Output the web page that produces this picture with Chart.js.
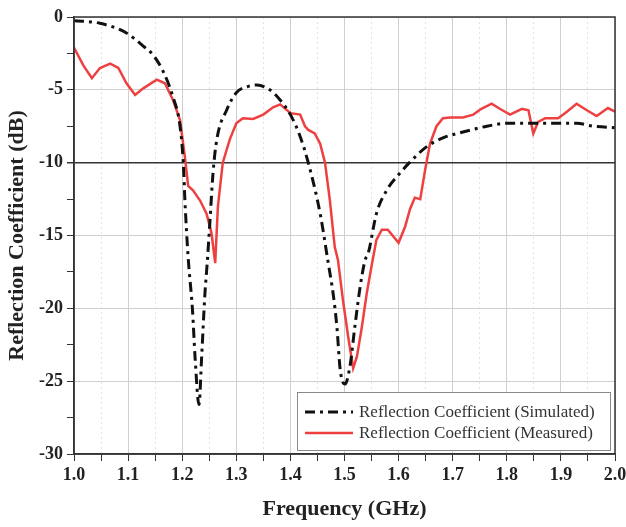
<!DOCTYPE html>
<html>
<head>
<meta charset="utf-8">
<script src="https://cdn.jsdelivr.net/npm/chart.js@4/dist/chart.umd.min.js"></script>
<style>
  html, body { margin: 0; padding: 0; background: #fff; }
  #wrap { width: 626px; height: 527px; }
</style>
</head>
<body>
<div id="wrap"><canvas id="grafico" width="626" height="527"></canvas></div>
<script>
// valores
var freqSim = [1.0, 1.048, 1.097, 1.128, 1.146, 1.165, 1.183, 1.196, 1.202, 1.205, 1.211, 1.219, 1.224, 1.231,
    1.236, 1.242, 1.246, 1.251, 1.257, 1.264, 1.282, 1.3, 1.319, 1.338, 1.362, 1.381, 1.4, 1.418, 1.433,
    1.455, 1.47, 1.479, 1.486, 1.492, 1.501, 1.51, 1.519, 1.529, 1.538, 1.544, 1.559, 1.578, 1.603, 1.62,
    1.652, 1.682, 1.719, 1.763, 1.8, 1.861, 1.929, 1.96, 2.0]
var s11Sim = [-0.25, -0.43, -1.1, -2.0, -2.6, -3.75, -5.5, -7.5, -10, -12.6, -16.5, -20.1, -23.5, -26.6,
    -23.3, -19, -17, -14.2, -10.7, -8.4, -6.4, -5.2, -4.8, -4.67, -5.0, -5.7, -6.7, -8.2, -10,
    -13.5, -16.9, -19, -21.3, -24.2, -25.2, -24, -21.3, -18.5, -16.7, -16.2, -13.5, -11.9, -10.7, -10,
    -8.9, -8.3, -7.9, -7.5, -7.3, -7.3, -7.3, -7.5, -7.6]

var freqMeas = [1.0, 1.017, 1.033, 1.048, 1.067, 1.082, 1.097, 1.113, 1.128, 1.153, 1.168, 1.183, 1.196,
    1.205, 1.211, 1.22, 1.233, 1.245, 1.254, 1.261, 1.266, 1.275, 1.288, 1.3, 1.312, 1.331, 1.35, 1.368,
    1.381, 1.4, 1.418, 1.427, 1.433, 1.445, 1.455, 1.464, 1.473, 1.482, 1.488, 1.497, 1.507, 1.516, 1.523,
    1.532, 1.541, 1.55, 1.559, 1.569, 1.58, 1.6, 1.612, 1.621, 1.63, 1.64, 1.649, 1.658, 1.67, 1.682,
    1.695, 1.719, 1.738, 1.753, 1.772, 1.787, 1.806, 1.828, 1.84, 1.849, 1.858, 1.871, 1.895, 1.911,
    1.929, 1.948, 1.966, 1.987, 2.0]
var s11Meas = [-2.1, -3.3, -4.2, -3.5, -3.2, -3.5, -4.55, -5.35, -4.9, -4.3, -4.55, -5.7, -7.07,
    -9.6, -11.6, -11.9, -12.6, -13.5, -14.8, -16.9, -13, -10, -8.4, -7.3, -6.95, -7.0, -6.7, -6.2,
    -6.0, -6.6, -6.7, -7.5, -7.75, -8.0, -8.7, -10, -12.6, -15.8, -16.7, -19.4, -22, -24.1, -23.3,
    -21.3, -19, -17.1, -15.3, -14.6, -14.6, -15.5, -14.4, -13.2, -12.4, -12.5, -10.5, -8.7, -7.5, -6.95,
    -6.9, -6.9, -6.7, -6.3, -5.95, -6.3, -6.7, -6.3, -6.4, -8.0, -7.2, -6.95, -6.95, -6.5,
    -5.95, -6.4, -6.8, -6.25, -6.5]

var labelSim = 'Reflection Coefficient (Simulated)'
var labelMeas = 'Reflection Coefficient (Measured)'

function pontos(xs, ys) {
    var out = []
    for (var i = 0; i < xs.length; i++) {
        out.push({ x: xs[i], y: ys[i] })
    }
    return out
}

var serif = '"Liberation Serif", "Times New Roman", serif'

// moldura em volta da area do grafico
var moldura = {
    id: 'moldura',
    afterDatasetsDraw: function (chart) {
        var a = chart.chartArea
        var c = chart.ctx
        c.save()
        c.strokeStyle = '#333'
        c.lineWidth = 1.5
        c.strokeRect(a.left, a.top, a.right - a.left, a.bottom - a.top)
        c.restore()
    }
}

// legenda dentro do grafico, canto inferior direito
var legendaBox = {
    id: 'legendaBox',
    afterDatasetsDraw: function (chart) {
        var a = chart.chartArea
        var c = chart.ctx
        var w = 313, h = 58
        var x0 = a.right - 5 - w
        var y0 = a.bottom - 4 - h
        c.save()
        c.fillStyle = '#fff'
        c.fillRect(x0, y0, w, h)
        c.strokeStyle = '#888'
        c.lineWidth = 1
        c.strokeRect(x0 + 0.5, y0 + 0.5, w, h)
        c.font = '17px ' + serif
        c.textBaseline = 'middle'
        chart.data.datasets.forEach(function (ds, i) {
            var yy = y0 + 20 + i * 21
            c.strokeStyle = ds.borderColor
            c.lineWidth = ds.borderWidth
            c.setLineDash(ds.borderDash || [])
            c.beginPath()
            c.moveTo(x0 + 8, yy)
            c.lineTo(x0 + 56, yy)
            c.stroke()
            c.setLineDash([])
            c.fillStyle = '#333'
            c.fillText(ds.label, x0 + 62, yy + 1)
        })
        c.restore()
    }
}

var ctx = document.getElementById('grafico')
var grafico = new Chart(ctx, {
    type: 'line',
    data: {
        datasets: [{
            label: labelSim,
            data: pontos(freqSim, s11Sim),
            borderColor: '#111',
            borderWidth: 3,
            borderDash: [10, 5, 3, 5],
            pointRadius: 0,
            fill: false,
            cubicInterpolationMode: 'monotone'
        }, {
            label: labelMeas,
            data: pontos(freqMeas, s11Meas),
            borderColor: '#ee4040',
            borderWidth: 2.5,
            pointRadius: 0,
            fill: false,
            tension: 0
        }]
    },
    options: {
        responsive: false,
        animation: false,
        layout: { padding: { top: 17, right: 11, left: 0, bottom: 0 } },
        plugins: {
            legend: { display: false },
            tooltip: { enabled: false }
        },
        scales: {
            x: {
                type: 'linear',
                min: 1.0,
                max: 2.0,
                afterFit: function (s) {
                    s.height = 73
                    s.paddingLeft = 0
                    s.paddingRight = 0
                },
                ticks: {
                    stepSize: 0.05,
                    autoSkip: false,
                    maxRotation: 0,
                    padding: 4,
                    color: '#222',
                    font: { family: serif, size: 18, weight: 'bold' },
                    callback: function (v) {
                        var k = Math.round(v * 100)
                        return k % 10 === 0 ? (k / 100).toFixed(1) : ''
                    }
                },
                grid: {
                    color: function (c) {
                        var k = Math.round(c.tick.value * 100)
                        return k % 10 === 0 ? '#cfcfcf' : '#e2e2e2'
                    },
                    tickColor: '#333',
                    tickLength: 7,
                    lineWidth: 1
                },
                border: {
                    color: '#333',
                    width: 1.5,
                    dash: function (c) {
                        var k = Math.round(c.tick.value * 100)
                        return k % 10 === 0 ? [] : [2, 3]
                    }
                },
                title: {
                    display: true,
                    text: 'Frequency (GHz)',
                    color: '#222',
                    font: { family: serif, size: 22, weight: 'bold' },
                    padding: { top: 8 }
                }
            },
            y: {
                min: -30,
                max: 0,
                afterFit: function (s) {
                    s.width = 74
                    s.paddingTop = 0
                    s.paddingBottom = 0
                },
                ticks: {
                    stepSize: 2.5,
                    autoSkip: false,
                    padding: 4,
                    color: '#222',
                    font: { family: serif, size: 18, weight: 'bold' },
                    callback: function (v) {
                        return v % 5 === 0 ? String(v) : ''
                    }
                },
                grid: {
                    color: function (c) {
                        var v = c.tick.value
                        if (v === -10) return '#333'
                        return v % 5 === 0 ? '#cfcfcf' : 'rgba(0,0,0,0)'
                    },
                    lineWidth: function (c) {
                        return c.tick.value === -10 ? 1.5 : 1
                    },
                    tickColor: '#333',
                    tickLength: 7
                },
                border: { color: '#333', width: 1.5 },
                title: {
                    display: true,
                    text: 'Reflection Coefficient (dB)',
                    color: '#222',
                    font: { family: serif, size: 22, weight: 'bold' },
                    padding: { bottom: 4 }
                }
            }
        }
    },
    plugins: [moldura, legendaBox]
})
</script>
</body>
</html>
